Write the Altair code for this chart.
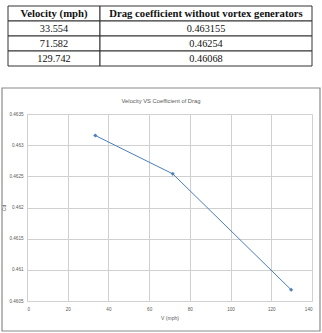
import altair as alt
import pandas as pd

# ---- data ----
velocity = [33.554, 71.582, 129.742]
drag = [0.463155, 0.46254, 0.46068]
velocity_text = ["33.554", "71.582", "129.742"]
drag_text = ["0.463155", "0.46254", "0.46068"]
headers = ["Velocity (mph)", "Drag coefficient without vortex generators"]
x_ticks = [0, 20, 40, 60, 80, 100, 120, 140]
y_ticks = [0.4605, 0.461, 0.4615, 0.462, 0.4625, 0.463, 0.4635]
chart_title = "Velocity VS Coefficient of Drag"
x_title = "V (mph)"
y_title = "Cd"

# ---- layout constants ----
COL_EDGES = [0, 92, 304]          # table column edges (table units)
LABEL_FONT = "Liberation Sans Narrow, Liberation Sans, sans-serif"
TABLE_FONT = "Liberation Serif, serif"
GRID = "#d0d0d0"
TXT = "#595959"
BLUE = "#4a7ebb"

df = pd.DataFrame({"v": velocity, "cd": drag})

# table cells built from the lists
rows = []
for c, h in enumerate(headers):
    rows.append({"row": 0, "col": c, "text": h, "bold": 1})
for r, (vt, dt) in enumerate(zip(velocity_text, drag_text), start=1):
    rows.append({"row": r, "col": 0, "text": vt, "bold": 0})
    rows.append({"row": r, "col": 1, "text": dt, "bold": 0})
tdf = pd.DataFrame(rows)
tdf["x0"] = [COL_EDGES[c] for c in tdf["col"]]
tdf["x1"] = [COL_EDGES[c + 1] for c in tdf["col"]]

tx = alt.Scale(domain=[0, 304], range=[-19, 285], nice=False, zero=False)
ty = alt.Scale(domain=[0, 4], range=[-108, -48], nice=False, zero=False)

tbase = alt.Chart(tdf).transform_calculate(
    r1="datum.row + 1", rm="datum.row + 0.5", xm="(datum.x0 + datum.x1) / 2"
)
cells = tbase.mark_rect(fill="white", stroke="#333333", strokeWidth=1).encode(
    x=alt.X("x0:Q", scale=tx, axis=None),
    x2="x1:Q",
    y=alt.Y("row:Q", scale=ty, axis=None),
    y2="r1:Q",
)
head_text = tbase.transform_filter("datum.bold == 1").mark_text(
    font=TABLE_FONT, fontSize=10.7, fontWeight="bold", color="#111111", baseline="middle"
).encode(
    x=alt.X("xm:Q", scale=tx, axis=None),
    y=alt.Y("rm:Q", scale=ty, axis=None),
    text="text:N",
)
body_text = tbase.transform_filter("datum.bold == 0").mark_text(
    font=TABLE_FONT, fontSize=10.3, color="#111111", baseline="middle"
).encode(
    x=alt.X("xm:Q", scale=tx, axis=None),
    y=alt.Y("rm:Q", scale=ty, axis=None),
    text="text:N",
)
table = alt.layer(cells, head_text, body_text)

# frame of the Excel chart area
frame = alt.Chart(pd.DataFrame({"a": [0]})).mark_rect(
    fill="transparent", stroke="#8a8a8a", strokeWidth=1.2
).encode(x=alt.value(-25), x2=alt.value(293), y=alt.value(-26), y2=alt.value(217))

title = alt.Chart(pd.DataFrame({"t": [chart_title]})).mark_text(
    font=LABEL_FONT, fontSize=5.8, color=TXT, baseline="middle"
).encode(x=alt.value(134), y=alt.value(-13), text="t:N")

base = alt.Chart(df).encode(
    x=alt.X(
        "v:Q",
        scale=alt.Scale(domain=[0, 140], nice=False),
        axis=alt.Axis(values=x_ticks, title=x_title, format="d", grid=True,
                      gridColor=GRID, gridWidth=1),
    ),
    y=alt.Y(
        "cd:Q",
        scale=alt.Scale(domain=[0.4605, 0.4635], nice=False, zero=False),
        axis=alt.Axis(values=y_ticks, title=y_title, format=".4~f", grid=True,
                      gridColor=GRID, gridWidth=1),
    ),
)
line = base.mark_line(color=BLUE, strokeWidth=1)
pts = base.mark_point(shape="diamond", filled=True, size=12, color=BLUE, opacity=1,
                      stroke=BLUE, strokeWidth=0.5)
plot = alt.layer(line, pts)

chart = alt.layer(frame, table, title, plot).resolve_scale(
    x="independent", y="independent"
).properties(
    width=285,
    height=187,
    autosize=alt.AutoSizeParams(type="none"),
    padding={"left": 27, "top": 114, "right": 10, "bottom": 32},
).configure_view(stroke=None).configure_axis(
    domainColor=GRID,
    domainWidth=1,
    ticks=False,
    labelFont=LABEL_FONT,
    labelFontSize=4.6,
    labelColor=TXT,
    titleFont=LABEL_FONT,
    titleFontSize=5,
    titleFontWeight="normal",
    titleColor=TXT,
).configure_axisX(labelPadding=5, titlePadding=5).configure_axisY(
    labelPadding=4, titlePadding=2
)

chart.save("out.html", embed_options={"renderer": "svg", "actions": False})
